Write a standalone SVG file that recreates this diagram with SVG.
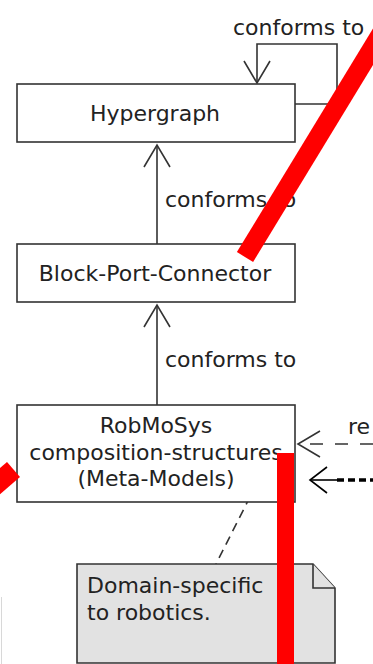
<svg xmlns="http://www.w3.org/2000/svg" width="373" height="664" viewBox="0 0 373 664">
  <style>
    .box { fill: #ffffff; stroke: #333333; stroke-width: 1.6; }
    .note { fill: #e2e2e2; stroke: #333333; stroke-width: 1.6; }
    .lbl { font-family: "DejaVu Sans", "Liberation Sans", sans-serif; font-size: 22px; fill: #222222; }
    .mid { text-anchor: middle; }
    .edge { fill: none; stroke: #333333; stroke-width: 1.6; }
    .red { fill: none; stroke: #ff0000; stroke-linecap: butt; }
  </style>
  <defs>
    <marker id="open" markerUnits="userSpaceOnUse" markerWidth="30" markerHeight="30" viewBox="-24 -15 26 30" refX="0" refY="0" orient="auto" overflow="visible">
      <path d="M-22,-13 L0,0 L-22,13" fill="none" stroke="#333333" stroke-width="1.6"/>
    </marker>
    <marker id="openBlack" markerUnits="userSpaceOnUse" markerWidth="30" markerHeight="30" viewBox="-24 -15 26 30" refX="0" refY="0" orient="auto" overflow="visible">
      <path d="M-17,-13 L0,0 L-17,13" fill="none" stroke="#000000" stroke-width="1.6"/>
    </marker>
  </defs>

  <rect width="373" height="664" fill="#ffffff"/>

  <!-- connectors -->
  <g id="connectors">
    <!-- Hypergraph self-loop -->
    <path class="edge" d="M295,104 H337 V44 H257 V83" marker-end="url(#open)"/>
    <text class="lbl" x="233" y="35">conforms to</text>
    <!-- Block-Port-Connector conforms to Hypergraph -->
    <path class="edge" d="M157,244 V145" marker-end="url(#open)"/>
    <text class="lbl" x="165" y="207">conforms to</text>
    <!-- composition-structures conforms to Block-Port-Connector -->
    <path class="edge" d="M157,405 V305" marker-end="url(#open)"/>
    <text class="lbl" x="165" y="367">conforms to</text>
    <!-- incoming dashed relation -->
    <path class="edge" d="M373,444 H298" stroke-dasharray="13 12" marker-end="url(#open)"/>
    <text class="lbl" x="348" y="434">re</text>
    <!-- incoming bold dashed relation -->
    <path d="M337,480 H310" fill="none" stroke="#000000" stroke-width="1.6" marker-end="url(#openBlack)"/>
    <path d="M337,480 H373" fill="none" stroke="#000000" stroke-width="3.5" stroke-dasharray="7 4"/>
    <!-- note anchor -->
    <path class="edge" d="M257,483 L216,564" stroke-dasharray="9 6"/>
  </g>

  <g id="hypergraph">
    <rect class="box" x="17" y="84" width="278" height="58"/>
    <text class="lbl mid" x="155" y="121">Hypergraph</text>
  </g>

  <g id="block-port-connector">
    <rect class="box" x="17" y="244" width="278" height="58"/>
    <text class="lbl mid" x="155" y="281">Block-Port-Connector</text>
  </g>

  <g id="composition-structures">
    <rect class="box" x="17" y="405" width="278" height="97"/>
    <text class="lbl mid" x="156" y="433">RobMoSys</text>
    <text class="lbl mid" x="156" y="460">composition-structures</text>
    <text class="lbl mid" x="156" y="486">(Meta-Models)</text>
  </g>

  <g id="note">
    <path class="note" d="M77,564 H313 L335,588 V663 H77 Z"/>
    <path class="note" d="M313,564 V588 H335" fill="none"/>
    <text class="lbl" x="87" y="593">Domain-specific</text>
    <text class="lbl" x="87" y="620">to robotics.</text>
  </g>

  <!-- red marker strokes over the drawing -->
  <g id="strikes">
    <path class="red" d="M245,257 L410,-14" stroke-width="19"/>
    <rect x="277" y="453" width="17" height="211" fill="#ff0000"/>
    <path class="red" d="M13.5,469.5 L-20,498.5" stroke-width="19.8"/>
    <line x1="1.5" y1="597" x2="1.5" y2="664" stroke="#d8d8d8" stroke-width="1"/>
  </g>
</svg>
